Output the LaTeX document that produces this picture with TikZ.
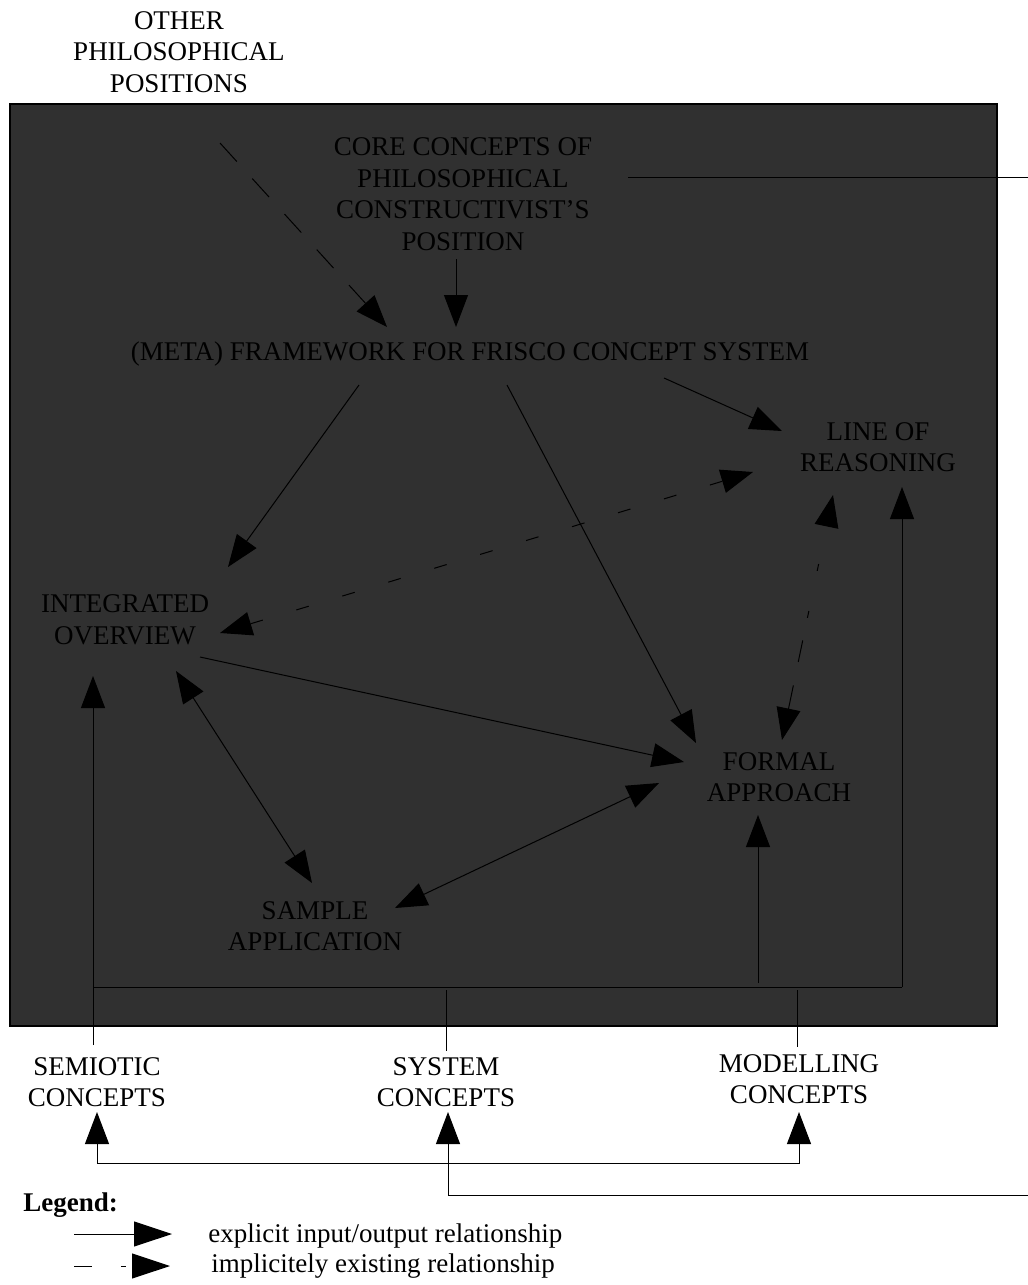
\documentclass[tikz,border=0pt]{standalone}
\usepackage{fontspec}
\setmainfont{Liberation Serif}
\usetikzlibrary{arrows.meta}
\definecolor{panel}{HTML}{303030}
\tikzset{
  lbl/.style={align=center, inner sep=0pt, font=\fontsize{13.5pt}{15.75pt}\selectfont, text=black},
  conn/.style={line width=0.5pt, draw=black},
  tipA/.tip={Triangle[length=16pt,width=12pt]},
  tipL/.tip={Triangle[length=19pt,width=12.5pt]},
  arr/.style={conn, -tipA},
  larr/.style={conn, -tipL},
  darr/.style={conn, tipA-tipA},
  dashA/.style={dash pattern=on 12.5pt off 11.5pt},
  dashB/.style={dash pattern=on 6.5pt off 17.5pt},
  dashC/.style={dash pattern=on 12pt off 12pt on 11pt off 11.5pt on 3.5pt off 20.5pt on 3.5pt off 20pt},
  dashL/.style={dash pattern=on 9pt off 14.5pt on 2.5pt off 10pt},
}
\begin{document}
\begin{tikzpicture}[x=0.5pt,y=-0.5pt]
\useasboundingbox (0,0) rectangle (1028,1285);
% panel
\draw[fill=panel, draw=black, line width=0.75pt] (10,104) rectangle (997,1026);

% labels
\node[lbl] (other) at (179,52) {OTHER\\PHILOSOPHICAL\\POSITIONS};
\node[lbl] (core) at (463,194.4) {CORE CONCEPTS OF\\PHILOSOPHICAL\\CONSTRUCTIVIST’S\\POSITION};
\node[lbl, anchor=base] (fw) at (470,360) {(META) FRAMEWORK FOR FRISCO CONCEPT SYSTEM};
\node[lbl] (lor) at (878,447) {LINE OF\\REASONING};
\node[lbl] (io) at (125,620) {INTEGRATED\\OVERVIEW};
\node[lbl] (formal) at (779,777) {FORMAL\\APPROACH};
\node[lbl] (sample) at (315,926) {SAMPLE\\APPLICATION};
\node[lbl] (semiotic) at (97,1082) {SEMIOTIC\\CONCEPTS};
\node[lbl] (system) at (446,1082) {SYSTEM\\CONCEPTS};
\node[lbl] (modelling) at (799,1079) {MODELLING\\CONCEPTS};

% legend
\node[lbl, anchor=base west, font=\fontsize{13.5pt}{15.75pt}\selectfont\bfseries] (legend) at (23,1211) {Legend:};
\node[lbl, anchor=base west] (leg1) at (208,1242) {explicit input/output relationship};
\node[lbl, anchor=base west] (leg2) at (211,1272) {implicitely existing relationship};

% connector end points
\coordinate (other-o) at (220,143);
\coordinate (fw-i1) at (387,327);
\coordinate (core-o) at (456,259);
\coordinate (fw-i2) at (456,327);
\coordinate (fw-o1) at (359,385);
\coordinate (io-i1) at (228,567);
\coordinate (fw-o2) at (507,385);
\coordinate (formal-i1) at (696,743);
\coordinate (fw-o3) at (664,378);
\coordinate (lor-i1) at (782,431);
\coordinate (io-d) at (220,633);
\coordinate (lor-d) at (753,472);
\coordinate (formal-d) at (782,740);
\coordinate (lor-d2) at (833,495);
\coordinate (io-o) at (200,657);
\coordinate (formal-i2) at (684,762);
\coordinate (io-s) at (176,671);
\coordinate (sample-s) at (312,883);
\coordinate (sample-f) at (395,908);
\coordinate (formal-s) at (659,783);
\coordinate (bus-w) at (93,987);
\coordinate (bus-e) at (902,987);
\coordinate (lor-i2) at (902,487);
\coordinate (formal-b) at (758,983);
\coordinate (formal-i3) at (758,815);
\coordinate (sem-top) at (93,1045);
\coordinate (io-i2) at (93,676);
\coordinate (sys-top) at (446,990);
\coordinate (sys-topb) at (446,1051);
\coordinate (mod-top) at (797,990);
\coordinate (mod-topb) at (797,1047);
\coordinate (sem-i) at (97,1112);
\coordinate (sem-c) at (97,1163);
\coordinate (mod-c) at (799,1163);
\coordinate (mod-i) at (799,1112);
\coordinate (sys-i) at (448,1112);
\coordinate (sys-c) at (448,1195);
\coordinate (sys-e) at (1028,1195);
\coordinate (core-e) at (628,177);
\coordinate (core-x) at (1028,177);
\coordinate (l1-a) at (74,1234);
\coordinate (l1-b) at (172,1234);
\coordinate (l2-a) at (74,1266);
\coordinate (l2-b) at (170,1266);

% connectors
\draw[arr, dashA] (other-o) -- (fw-i1);
\draw[arr] (core-o) -- (fw-i2);
\draw[arr] (fw-o1) -- (io-i1);
\draw[arr] (fw-o2) -- (formal-i1);
\draw[arr] (fw-o3) -- (lor-i1);
\draw[darr, dashB] (io-d) -- (lor-d);
\draw[darr, dashC] (formal-d) -- (lor-d2);
\draw[arr] (io-o) -- (formal-i2);
\draw[darr] (io-s) -- (sample-s);
\draw[darr] (sample-f) -- (formal-s);
\draw[conn] (bus-w) -- (bus-e);
\draw[arr] (bus-e) -- (lor-i2);
\draw[arr] (formal-b) -- (formal-i3);
\draw[arr] (sem-top) -- (io-i2);
\draw[conn] (sys-top) -- (sys-topb);
\draw[conn] (mod-top) -- (mod-topb);
\draw[darr] (sem-i) -- (sem-c) -- (mod-c) -- (mod-i);
\draw[arr] (sys-e) -- (sys-c) -- (sys-i);
\draw[conn] (core-e) -- (core-x);
\draw[larr] (l1-a) -- (l1-b);
\draw[larr, dash pattern=on 9pt off 14.5pt on 2.5pt off 10pt] (l2-a) -- (l2-b);
\end{tikzpicture}
\end{document}
